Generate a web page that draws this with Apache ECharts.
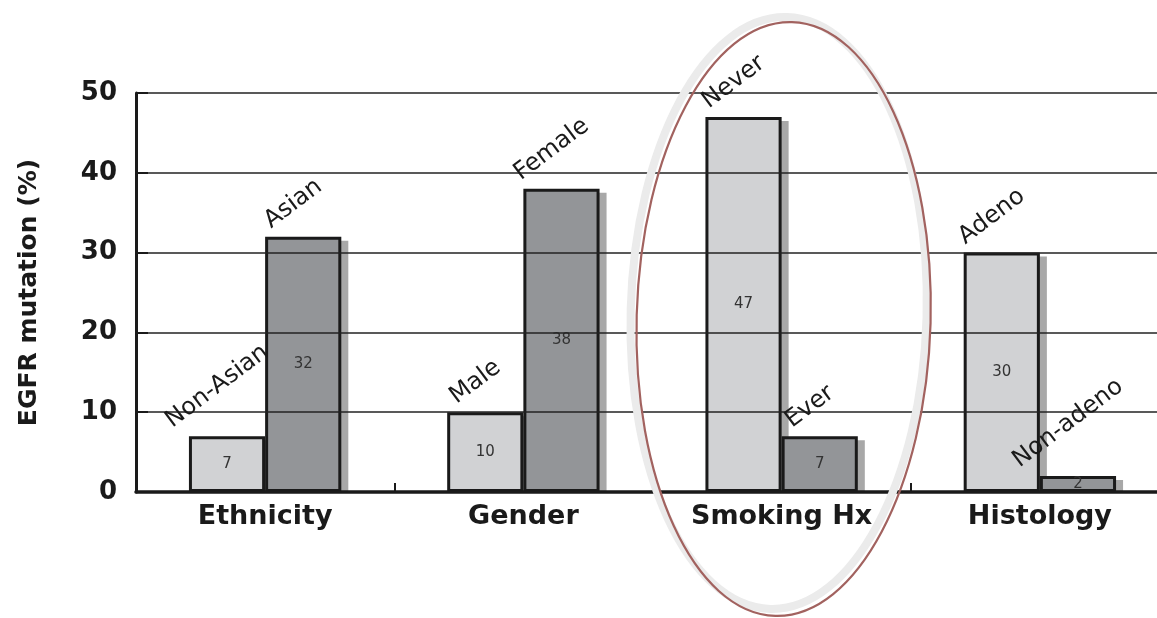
<!DOCTYPE html>
<html>
<head>
<meta charset="utf-8">
<script src="https://cdn.jsdelivr.net/npm/echarts@6/dist/echarts.min.js"></script>
<style>
  html, body { margin: 0; padding: 0; background: #ffffff; }
  #chart { width: 1157px; height: 618px; }
</style>
</head>
<body>
<div id="chart"></div>
<script>
// EGFR mutation rate by patient subgroup
const categories = ['Ethnicity', 'Gender', 'Smoking Hx', 'Histology'];
const firstNames = ['Non-Asian', 'Male', 'Never', 'Adeno'];
const firstValues = [7, 10, 47, 30];
const secondNames = ['Asian', 'Female', 'Ever', 'Non-adeno'];
const secondValues = [32, 38, 7, 2];
const yMin = 0;
const yMax = 50;
const yStep = 10;

const FONT = '"DejaVu Sans", Verdana, sans-serif';
const INK = '#1a1a1a';
const CATEGORY_GAP = 0.41;          // share of each band left empty
const NAME_SIZE = 24;
const NAME_ANGLE = 37 * Math.PI / 180;
const SHADOW_SHIFT = 7;

const measureCtx = document.createElement('canvas').getContext('2d');
measureCtx.font = NAME_SIZE + 'px ' + FONT;
function textWidth(s) { return measureCtx.measureText(s).width; }

// one row per bar: [category index, value, slot in pair]; names kept alongside
const barRows = [];
const barNames = [];
categories.forEach((c, i) => {
  barRows.push([i, firstValues[i], 0]);  barNames.push(firstNames[i]);
  barRows.push([i, secondValues[i], 1]); barNames.push(secondNames[i]);
});

// pixel box of a bar, derived from the axes the same way the bar layout does
function barBox(api) {
  const topPt = api.coord([api.value(0), api.value(1)]);
  const basePt = api.coord([api.value(0), 0]);
  const band = api.size([1, 0])[0];
  const w = band * (1 - CATEGORY_GAP) / 2;
  const left = topPt[0] - w + api.value(2) * w;
  return { left: left, w: w, top: topPt[1], base: basePt[1] };
}

const chart = echarts.init(document.getElementById('chart'), null, { renderer: 'canvas' });

const barLabel = {
  show: true,
  position: 'inside',
  fontFamily: FONT,
  fontSize: 15,
  color: '#333333'
};

const option = {
  animation: false,
  backgroundColor: '#ffffff',
  grid: { left: 136, top: 93, width: 1033, height: 399, outerBoundsMode: 'none' },
  xAxis: {
    type: 'category',
    data: categories,
    boundaryGap: true,
    axisLine: { show: true, lineStyle: { color: INK, width: 3.5 } },
    axisTick: { show: true, inside: true, length: 9, alignWithLabel: false, lineStyle: { color: INK, width: 2 } },
    axisLabel: { color: INK, fontFamily: FONT, fontWeight: 'bold', fontSize: 27, margin: 11 },
    splitLine: { show: false },
    z: 4
  },
  yAxis: {
    type: 'value',
    min: yMin,
    max: yMax,
    interval: yStep,
    name: 'EGFR mutation (%)',
    nameLocation: 'middle',
    nameRotate: 90,
    nameGap: 94,
    nameTextStyle: { color: INK, fontFamily: FONT, fontWeight: 'bold', fontSize: 25 },
    axisLine: { show: true, lineStyle: { color: INK, width: 3 } },
    axisTick: { show: true, inside: true, length: 12, lineStyle: { color: INK, width: 2 } },
    axisLabel: { color: INK, fontFamily: FONT, fontWeight: 'bold', fontSize: 26, margin: 19 },
    splitLine: { show: true, lineStyle: { color: '#222222', width: 1.5 } },
    z: 4
  },
  series: [
    {
      // drop shadows behind the bars
      type: 'custom',
      data: barRows,
      encode: { x: 0, y: 1 },
      z: 1,
      silent: true,
      renderItem: function (params, api) {
        const b = barBox(api);
        return {
          type: 'rect',
          shape: {
            x: b.left + SHADOW_SHIFT,
            y: b.top + 4,
            width: b.w,
            height: Math.max(0, b.base - b.top - 4)
          },
          style: { fill: '#a8a8a8' }
        };
      }
    },
    {
      type: 'bar',
      data: firstValues,
      barGap: '0%',
      barCategoryGap: (CATEGORY_GAP * 100) + '%',
      itemStyle: { color: '#d1d2d4', borderColor: INK, borderWidth: 3 },
      label: barLabel,
      emphasis: { disabled: true },
      z: 2
    },
    {
      type: 'bar',
      data: secondValues,
      barGap: '0%',
      barCategoryGap: (CATEGORY_GAP * 100) + '%',
      itemStyle: { color: '#939598', borderColor: INK, borderWidth: 3 },
      label: barLabel,
      emphasis: { disabled: true },
      z: 2
    },
    {
      // slanted subgroup names above each bar
      type: 'custom',
      data: barRows,
      encode: { x: 0, y: 1 },
      z: 5,
      silent: true,
      renderItem: function (params, api) {
        const b = barBox(api);
        const name = barNames[params.dataIndex];
        const L = textWidth(name);
        const sin = Math.sin(NAME_ANGLE);
        const cos = Math.cos(NAME_ANGLE);
        const descent = NAME_SIZE * 0.23;
        const cx = b.left + b.w / 2;
        const sx = cx - 6 - (L / 2) * cos;
        const sy = b.top - 8;
        return {
          type: 'text',
          x: sx + descent * sin,
          y: sy + descent * cos,
          rotation: NAME_ANGLE,
          style: {
            text: name,
            fontFamily: FONT,
            fontSize: NAME_SIZE,
            fill: INK,
            align: 'left',
            verticalAlign: 'bottom'
          }
        };
      }
    }
  ]
};

chart.setOption(option);

// highlight ring around the smoking-history group
const anchor = chart.convertToPixel({ xAxisIndex: 0, yAxisIndex: 0 }, ['Smoking Hx', 0]);
chart.setOption({
  graphic: [
    {
      type: 'ellipse',
      x: anchor[0] - 3,
      y: anchor[1] - 179,
      rotation: -0.028,
      shape: { cx: 0, cy: 0, rx: 148, ry: 296 },
      style: { fill: 'none', stroke: '#ebebeb', lineWidth: 8 },
      z: 20,
      silent: true
    },
    {
      type: 'ellipse',
      x: anchor[0] + 2,
      y: anchor[1] - 173,
      rotation: -0.028,
      shape: { cx: 0, cy: 0, rx: 147, ry: 297 },
      style: { fill: 'none', stroke: '#a2625f', lineWidth: 2.2 },
      z: 21,
      silent: true
    }
  ]
});
</script>
</body>
</html>
